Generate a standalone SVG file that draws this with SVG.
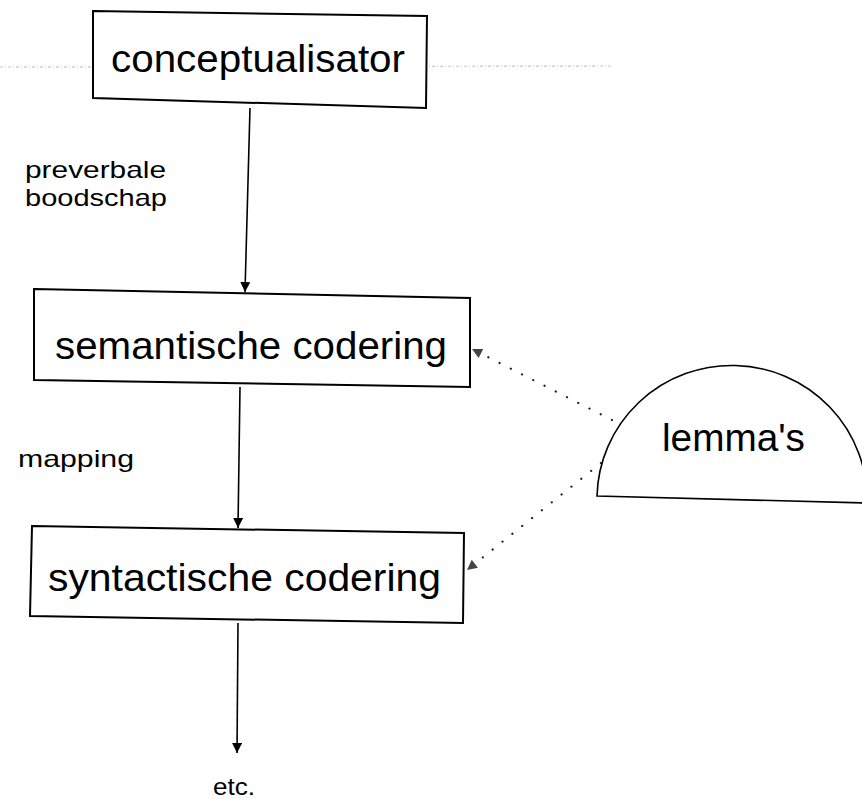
<svg xmlns="http://www.w3.org/2000/svg" width="862" height="799" viewBox="0 0 862 799">
<style>
  .box{fill:#fff;stroke:#000;stroke-width:2;stroke-linejoin:miter}
  .big{font-family:"Liberation Sans",Arial,sans-serif;font-size:39px;fill:#000}
  .lbl{font-family:"Liberation Sans",Arial,sans-serif;font-size:24px;fill:#000}
  .edge{stroke:#000;stroke-width:1.6;fill:none}
  .dot{stroke:#222;stroke-width:2.2;fill:none;stroke-dasharray:0.1 12.5;stroke-linecap:round}
  .scan{stroke:#c8c8c8;stroke-width:1.2;stroke-dasharray:3 2 1 2}
</style>
<defs>
  <marker id="ah" viewBox="0 0 10 10" refX="10" refY="5" markerWidth="10" markerHeight="10" markerUnits="userSpaceOnUse" orient="auto">
    <path d="M0,0 L10,5 L0,10 z" fill="#000"/>
  </marker>
  <marker id="ahs" viewBox="0 0 10 10" refX="10" refY="5" markerWidth="12" markerHeight="10" markerUnits="userSpaceOnUse" orient="auto">
    <path d="M0,0 L10,5 L0,10 z" fill="#444"/>
  </marker>
</defs>
<rect width="862" height="799" fill="#fff"/>
<line class="scan" x1="0" y1="67" x2="612" y2="66"/>

<g id="connectors">
  <path class="edge" d="M250,108 L245,292" marker-end="url(#ah)"/>
  <path class="edge" d="M240,387 L238,528" marker-end="url(#ah)"/>
  <path class="edge" d="M238,623 L237,753" marker-end="url(#ah)"/>
  <path class="dot" d="M612,420 L472,349" marker-end="url(#ahs)"/>
  <path class="dot" d="M601,463 L467,570" marker-end="url(#ahs)"/>
</g>

<g id="conceptualisator">
  <polygon class="box" points="93,11 427,16 426,108 93,98"/>
  <text class="big" x="111" y="72" textLength="294" lengthAdjust="spacingAndGlyphs">conceptualisator</text>
</g>

<g id="label-preverbale">
  <text class="lbl" x="25" y="178" textLength="141" lengthAdjust="spacingAndGlyphs">preverbale</text>
  <text class="lbl" x="25" y="206" textLength="142" lengthAdjust="spacingAndGlyphs">boodschap</text>
</g>

<g id="semantische-codering">
  <polygon class="box" points="34,289 470,298 470,387 34,380"/>
  <text class="big" x="55" y="359" textLength="392" lengthAdjust="spacingAndGlyphs">semantische codering</text>
</g>

<g id="label-mapping">
  <text class="lbl" x="18" y="467" textLength="116" lengthAdjust="spacingAndGlyphs">mapping</text>
</g>

<g id="syntactische-codering">
  <polygon class="box" points="32,526 464,533 463,623 30,616"/>
  <text class="big" x="48" y="591" textLength="393" lengthAdjust="spacingAndGlyphs">syntactische codering</text>
</g>

<g id="label-etc">
  <text class="lbl" x="213" y="795" textLength="42" lengthAdjust="spacingAndGlyphs">etc.</text>
</g>

<g id="lemmas">
  <path class="box" style="stroke-width:1.6" d="M597,496 A135,134 0 0 1 867,503 L597,496 z"/>
  <text class="big" x="662" y="451" style="font-size:38px" textLength="143" lengthAdjust="spacingAndGlyphs">lemma's</text>
</g>
</svg>
